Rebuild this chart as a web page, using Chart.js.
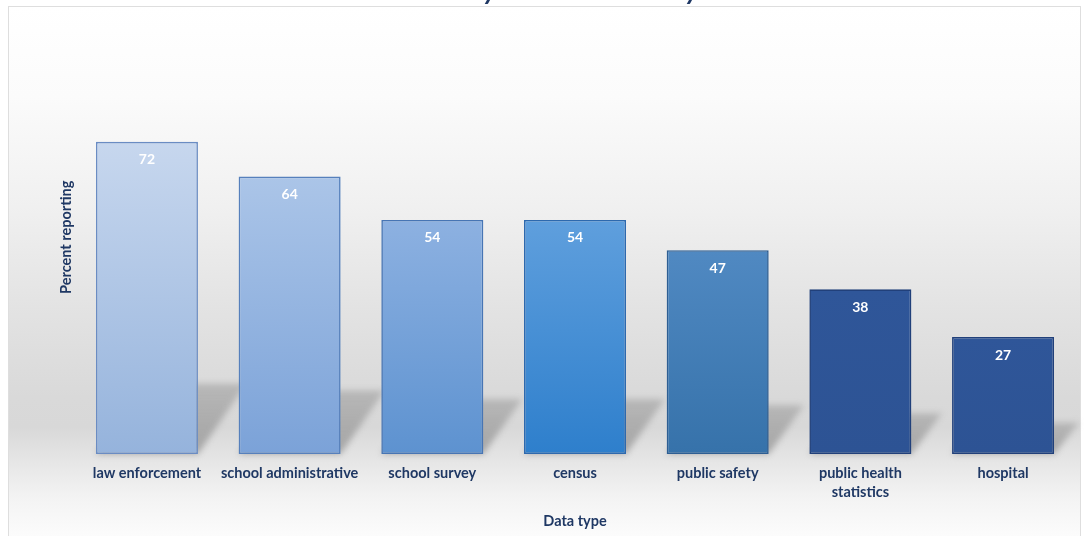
<!DOCTYPE html>
<html>
<head>
<meta charset="utf-8">
<script src="https://cdn.jsdelivr.net/npm/chart.js@4.4.1/dist/chart.umd.min.js"></script>
<style>
  html, body { margin:0; padding:0; background:#fff; overflow:hidden; }
  body { width:1084px; height:536px; position:relative; }
  #panel {
    position:absolute; left:8px; top:6px; width:1071px; height:560px;
    border:1px solid #dedede;
    background:linear-gradient(to bottom, #ffffff 0px, #fbfbfb 90px, #f0f0f0 200px, #e3e3e3 300px,
      #d9d9d9 390px, #d8d8d8 420px, #e6e6e6 455px, #f3f3f3 490px, #fbfbfb 525px, #ffffff 560px);
  }
  #wrap { position:absolute; left:0; top:-30px; width:1084px; height:566px; }
</style>
</head>
<body>
<div id="panel"></div>
<div id="wrap"><canvas id="chart"></canvas></div>
<script>
// survey results, percent of communities reporting each data type
const categories = ['law enforcement', 'school administrative', 'school survey', 'census',
                    'public safety', ['public health', 'statistics'], 'hospital'];
const percents = [72, 64, 54, 54, 47, 38, 27];
const yMin = 0, yMax = 100;

// top / bottom gradient stops and outline per bar
const topColors    = ['#c7d7ee', '#abc5e8', '#8db1e1', '#5f9fdd', '#5089c2', '#2f5699', '#2f5699'];
const bottomColors = ['#95b3dc', '#7ba2d8', '#5d92d0', '#2e7fcc', '#3672aa', '#2d5394', '#2d5394'];
const edgeColors   = ['#6a8cc3', '#5680bc', '#4775b4', '#2d69ae', '#2d5e93', '#21407a', '#21407a'];

const NAVY = '#1f3864';
const FONT = 'Lato, "Open Sans", sans-serif';

function barFill(ctx){
  const chart = ctx.chart, i = ctx.dataIndex;
  const ys = chart.scales.y;
  if(!chart.chartArea || !ys) return topColors[i];
  const top = ys.getPixelForValue(percents[i]), base = ys.getPixelForValue(0);
  const g = chart.ctx.createLinearGradient(0, top, 0, base);
  g.addColorStop(0, topColors[i]);
  g.addColorStop(1, bottomColors[i]);
  return g;
}

// floor shadow thrown back and to the right of every bar
const floorShadow = {
  id: 'floorShadow',
  beforeDatasetsDraw(chart){
    const c = chart.ctx;
    const meta = chart.getDatasetMeta(0);
    c.save();
    c.filter = 'blur(3px)';
    meta.data.forEach(bar => {
      const h = bar.base - bar.y;
      const hs = h * 0.2 + 8;
      const dx = hs * 0.6 + 6;
      const L = bar.x - bar.width / 2, R = bar.x + bar.width / 2;
      const g = c.createLinearGradient(0, bar.base - hs, 0, bar.base);
      g.addColorStop(0, 'rgba(150,150,150,0.5)');
      g.addColorStop(1, 'rgba(140,140,140,0.7)');
      c.fillStyle = g;
      c.beginPath();
      c.moveTo(L, bar.base);
      c.lineTo(R, bar.base);
      c.lineTo(R + dx, bar.base - hs);
      c.lineTo(L + dx, bar.base - hs);
      c.closePath();
      c.fill();
    });
    c.restore();
  }
};

// value printed inside the top of each bar
const valueLabels = {
  id: 'valueLabels',
  afterDatasetsDraw(chart){
    const c = chart.ctx;
    const meta = chart.getDatasetMeta(0);
    c.save();
    c.fillStyle = '#ffffff';
    c.font = 'bold 14px ' + FONT;
    c.textAlign = 'center';
    c.textBaseline = 'middle';
    meta.data.forEach((bar, i) => {
      c.fillText(String(percents[i]), bar.x, bar.y + 18);
    });
    c.restore();
  }
};

new Chart(document.getElementById('chart').getContext('2d'), {
  type: 'bar',
  data: {
    labels: categories,
    datasets: [{
      data: percents,
      backgroundColor: barFill,
      borderColor: edgeColors,
      borderWidth: 1.6,
      borderSkipped: false,
      categoryPercentage: 1,
      barPercentage: 0.715
    }]
  },
  options: {
    responsive: true,
    maintainAspectRatio: false,
    animation: false,
    layout: { padding: { left: 57.3, right: 9.6, top: 0, bottom: 5.5 } },
    plugins: {
      legend: { display: false },
      tooltip: { enabled: false },
      title: {
        display: true,
        text: 'Community Readiness Survey 2017',
        color: NAVY,
        font: { family: FONT, size: 27, weight: 'bold', style: 'italic', lineHeight: 1.2 },
        padding: { top: 5, bottom: 13 }
      }
    },
    scales: {
      x: {
        grid: { display: false, drawTicks: false },
        border: { display: false },
        ticks: {
          color: NAVY, padding: 10, maxRotation: 0, autoSkip: false,
          font: { family: FONT, size: 14.5, weight: 'bold', lineHeight: 1.31 }
        },
        title: {
          display: true, text: 'Data type', color: NAVY,
          font: { family: FONT, size: 14.5, weight: 'bold', lineHeight: 1.2 },
          padding: { top: 1, bottom: 0 }
        }
      },
      y: {
        min: yMin, max: yMax,
        grid: { display: false, drawTicks: false },
        border: { display: false },
        ticks: { display: false },
        title: {
          display: true, text: 'Percent reporting', color: NAVY,
          font: { family: FONT, size: 14.5, weight: 'bold', lineHeight: 1.2 },
          padding: { top: 0, bottom: 0.9 }
        }
      }
    }
  },
  plugins: [floorShadow, valueLabels]
});
</script>
</body>
</html>
